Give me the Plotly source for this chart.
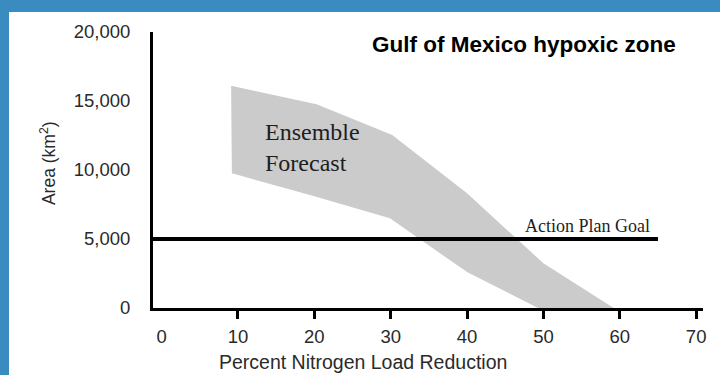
import plotly.graph_objects as go

# Ensemble forecast envelope (area in km², percent N load reduction)
band_upper_x = [9.1, 20.3, 30.2, 40.0, 50.0, 59.2]
band_upper_y = [16100, 14760, 12530, 8310, 3240, 0]
band_lower_x = [9.2, 20.0, 29.9, 40.0, 49.3]
band_lower_y = [9760, 8100, 6500, 2600, 0]

# Action plan goal
goal_area = 5000
goal_end_x = 65

x_ticks = [0, 10, 20, 30, 40, 50, 60, 70]
x_minor_ticks = [10, 20, 30, 40, 50, 60, 70]
y_ticks = [0, 5000, 10000, 15000, 20000]

x_range = [-1.13, 70.9]
y_range = [0, 20000]

poly_x = band_upper_x + band_lower_x[::-1]
poly_y = band_upper_y + band_lower_y[::-1]

fig = go.Figure()

fig.add_trace(go.Scatter(
    x=poly_x, y=poly_y, fill="toself", fillcolor="#cbcbcb",
    mode="lines", line=dict(width=0, color="#cbcbcb"),
    hoverinfo="skip", showlegend=False,
))

fig.add_trace(go.Scatter(
    x=[x_range[0], goal_end_x], y=[goal_area, goal_area],
    mode="lines", line=dict(color="black", width=4),
    xaxis="x2", hoverinfo="skip", showlegend=False,
))

tick_font = dict(family="Arial", size=18.5, color="#2a2a2a")
serif = "Liberation Serif, Times New Roman, serif"

fig.update_layout(
    width=720, height=375,
    margin=dict(l=153, r=17, t=32, b=67),
    # blue slide frame shows around a white panel
    paper_bgcolor="#3a8bc0", plot_bgcolor="white",
    hovermode=False,
    xaxis=dict(
        range=x_range, showline=True, linecolor="black", linewidth=3,
        tickmode="array", tickvals=x_ticks, ticks="",
        showgrid=False, zeroline=False, tickfont=tick_font,
        ticklabelstandoff=10,
    ),
    xaxis2=dict(
        range=x_range, overlaying="x", anchor="y", side="bottom",
        tickmode="array", tickvals=x_minor_ticks, ticks="outside",
        ticklen=10, tickwidth=3, tickcolor="black",
        showticklabels=False, showline=False, showgrid=False, zeroline=False,
    ),
    yaxis=dict(
        range=y_range, showline=True, linecolor="black", linewidth=3,
        tickmode="array", tickvals=y_ticks, tickformat=",", ticks="",
        showgrid=False, zeroline=False, tickfont=tick_font,
        ticklabelstandoff=16,
    ),
    shapes=[
        dict(type="rect", xref="paper", yref="paper",
             x0=-144 / 550, x1=1 + 40 / 550, y0=-90 / 276, y1=1 + 20 / 276,
             fillcolor="white", line=dict(width=0), layer="below"),
    ],
    annotations=[
        dict(text="Gulf of Mexico hypoxic zone", xref="paper", yref="paper",
             x=0.6745, y=0.953, xanchor="center", yanchor="middle",
             showarrow=False,
             font=dict(family="Arial", size=22.5, color="black", weight="bold")),
        dict(text="Ensemble<br>Forecast", xref="x", yref="y",
             x=13.3, y=11630, xanchor="left", yanchor="middle", align="left",
             showarrow=False,
             font=dict(family=serif, size=24, color="#1e1e1e")),
        dict(text="Action Plan Goal", xref="x", yref="y",
             x=64.2, y=goal_area, xanchor="right", yanchor="bottom",
             yshift=1, showarrow=False,
             font=dict(family=serif, size=18, color="#1e1e1e")),
        dict(text="Percent Nitrogen Load Reduction", xref="paper", yref="paper",
             x=0.382, y=-0.195, xanchor="center", yanchor="middle",
             showarrow=False,
             font=dict(family="Arial", size=19.5, color="#2a2a2a")),
        dict(text="Area (km<sup>2</sup>)", xref="paper", yref="paper",
             x=-0.191, y=0.525, xanchor="center", yanchor="middle",
             textangle=-90, showarrow=False,
             font=dict(family="Arial", size=17.5, color="#2a2a2a")),
    ],
)

fig.write_html("out.html")
